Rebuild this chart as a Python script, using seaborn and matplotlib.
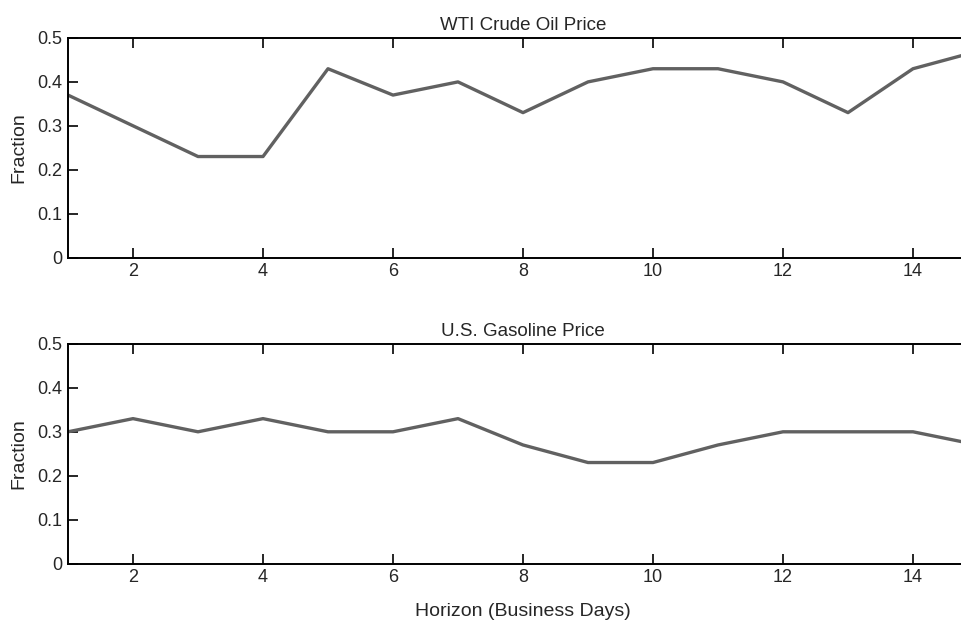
import numpy as np
import pandas as pd
import matplotlib
matplotlib.use("Agg")
import matplotlib.pyplot as plt
import seaborn as sns

horizon = list(range(1, 16))
wti_fraction = [0.37, 0.30, 0.23, 0.23, 0.43, 0.37, 0.40, 0.33, 0.40, 0.43, 0.43, 0.40, 0.33, 0.43, 0.47]
gasoline_fraction = [0.30, 0.33, 0.30, 0.33, 0.30, 0.30, 0.33, 0.27, 0.23, 0.23, 0.27, 0.30, 0.30, 0.30, 0.27]
panel_titles = ["WTI Crude Oil Price", "U.S. Gasoline Price"]
y_ticks = [0, 0.1, 0.2, 0.3, 0.4, 0.5]
y_tick_labels = ["0", "0.1", "0.2", "0.3", "0.4", "0.5"]
x_ticks = [2, 4, 6, 8, 10, 12, 14]

sns.set_style("ticks", {
    "xtick.direction": "in",
    "ytick.direction": "in",
    "axes.edgecolor": "black",
})
plt.rcParams['font.family'] = ['Liberation Sans', 'DejaVu Sans']
plt.rcParams['axes.linewidth'] = 1.4

df = pd.DataFrame({
    "horizon": horizon * 2,
    "fraction": wti_fraction + gasoline_fraction,
    "series": [panel_titles[0]] * len(horizon) + [panel_titles[1]] * len(horizon),
})

fig = plt.figure(figsize=(9.61, 6.2), dpi=100)
# axes run past the right edge, as in the cropped original
ax_top = fig.add_axes([68 / 961, 1 - 257.5 / 620, 910 / 961, 219.5 / 620])
ax_bot = fig.add_axes([68 / 961, 1 - 563.5 / 620, 910 / 961, 219.5 / 620])

for ax, title in zip([ax_top, ax_bot], panel_titles):
    sub = df[df["series"] == title]
    sns.lineplot(data=sub, x="horizon", y="fraction", ax=ax, color="#616161", linewidth=2.4)
    ax.set_xlim(1, 15)
    ax.set_ylim(0, 0.5)
    ax.set_xticks(x_ticks)
    ax.set_yticks(y_ticks)
    ax.set_yticklabels(y_tick_labels)
    ax.tick_params(axis="both", which="major", direction="in", length=7, width=1.4,
                   labelsize=13, top=True, right=True, pad=4)
    ax.set_title(title, fontsize=13.5, pad=5.5)
    ax.set_ylabel("Fraction", fontsize=14, labelpad=7)
    ax.set_xlabel("")
    for s in ax.spines.values():
        s.set_visible(True)

ax_bot.set_xlabel("Horizon (Business Days)", fontsize=14, labelpad=12)

fig.savefig("out.png", dpi=100)
